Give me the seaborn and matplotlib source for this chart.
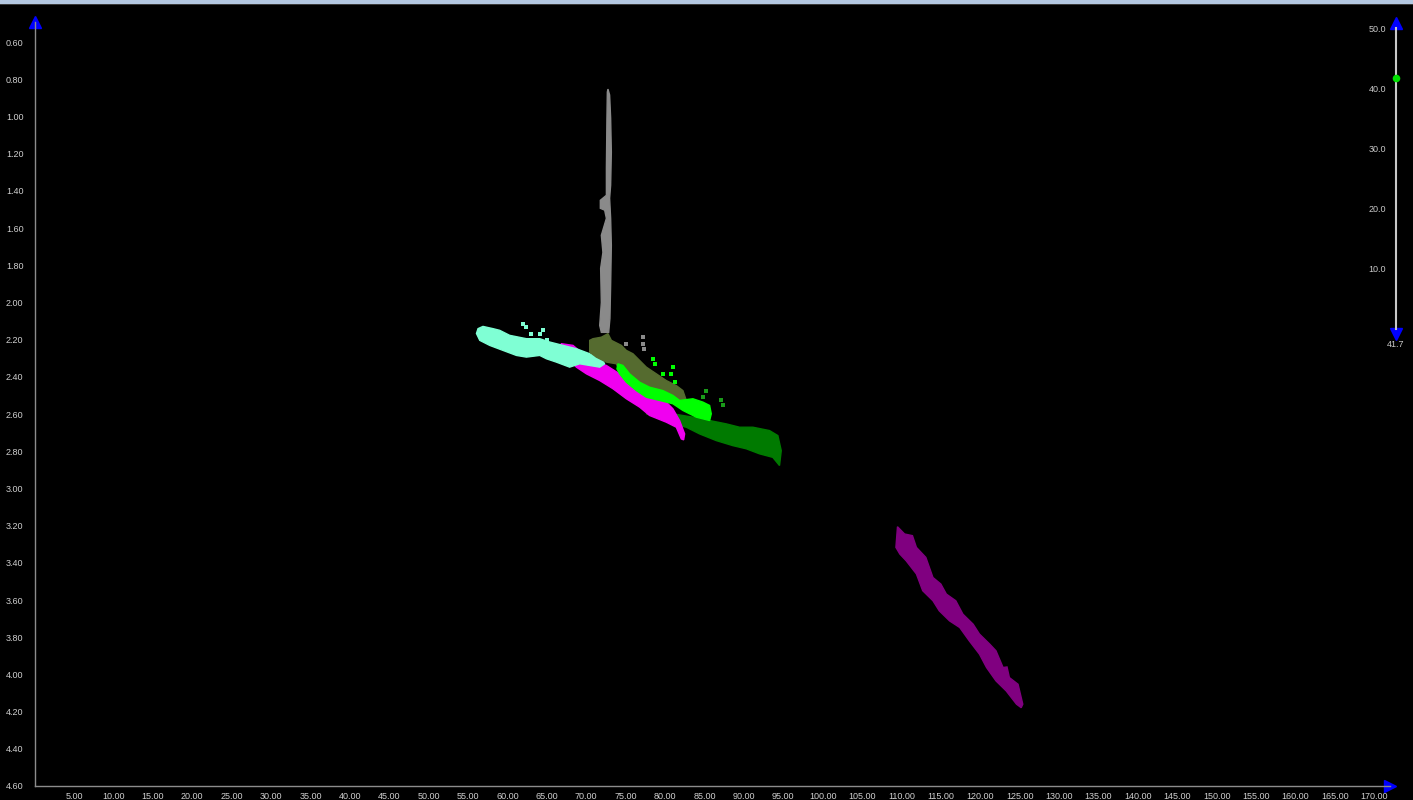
import numpy as np
import matplotlib
matplotlib.use("Agg")
import matplotlib.pyplot as plt
import seaborn as sns
from matplotlib.patches import Rectangle
from matplotlib.ticker import FormatStrFormatter

sns.set_style("dark", {"axes.facecolor": "black", "figure.facecolor": "black"})
plt.rcParams['font.family'] = ['Liberation Sans', 'DejaVu Sans']

# outlines of each point cloud (x, depth)
gray_x = [72.76, 72.97, 73.10, 73.19, 73.10, 72.97, 73.10, 73.19, 73.10, 73.01, 72.85,
          71.92, 71.71, 71.92, 71.83, 72.12, 71.92, 72.56, 72.34, 71.79, 71.79, 72.56,
          72.56, 72.63, 72.68]
gray_y = [0.853, 0.885, 1.009, 1.192, 1.370, 1.440, 1.548, 1.693, 1.908, 2.086, 2.161,
          2.161, 2.124, 2.000, 1.817, 1.731, 1.639, 1.548, 1.504, 1.494, 1.451, 1.424,
          1.278, 1.009, 0.869]

cyan_x = [56.07, 56.27, 56.9, 58.17, 59.02, 60.29, 62.41, 64.1, 65.37, 67.05, 68.75, 70.44,
          71.92, 72.34, 71.71, 70.44, 69.17, 67.9, 66.21, 64.95, 64.1, 62.41, 61.14, 59.44,
          57.75, 56.49]
cyan_y = [2.167, 2.141, 2.129, 2.141, 2.150, 2.177, 2.195, 2.195, 2.213, 2.231, 2.249, 2.276,
          2.303, 2.330, 2.348, 2.339, 2.330, 2.348, 2.321, 2.303, 2.285, 2.294, 2.285, 2.258,
          2.231, 2.204]

magenta_x = [66.85, 68.32, 69.59, 71.29, 72.56, 74.24, 75.93, 77.63, 80.16, 81.0, 81.85,
             82.49, 82.36, 82.07, 81.43, 80.16, 78.05, 76.78, 75.09, 73.39, 71.71, 70.02,
             68.75, 67.48, 66.64]
magenta_y = [2.222, 2.231, 2.276, 2.321, 2.339, 2.384, 2.447, 2.510, 2.536, 2.572, 2.635,
             2.707, 2.739, 2.734, 2.671, 2.644, 2.608, 2.563, 2.518, 2.464, 2.420, 2.384,
             2.348, 2.294, 2.240]

olive_x = [70.44, 70.86, 71.92, 72.76, 73.19, 74.46, 75.09, 75.93, 76.78, 77.63, 78.90,
           80.16, 81.43, 82.27, 82.70, 81.0, 79.73, 78.05, 76.36, 75.09, 74.24, 73.82,
           72.56, 71.29, 70.44]
olive_y = [2.204, 2.195, 2.187, 2.168, 2.204, 2.231, 2.258, 2.276, 2.312, 2.348, 2.384,
           2.420, 2.447, 2.474, 2.527, 2.527, 2.500, 2.474, 2.447, 2.402, 2.366, 2.330,
           2.321, 2.294, 2.267]

dgreen_x = [78.05, 81.0, 83.54, 85.66, 87.77, 89.46, 91.15, 93.26, 94.32, 94.75, 94.53,
            93.68, 91.99, 90.31, 88.61, 86.51, 84.39, 82.70, 81.0, 78.90, 77.63]
dgreen_y = [2.572, 2.599, 2.617, 2.635, 2.653, 2.671, 2.671, 2.689, 2.716, 2.797, 2.877,
            2.833, 2.814, 2.787, 2.770, 2.743, 2.707, 2.671, 2.653, 2.617, 2.599]

lime_x = [74.03, 74.66, 75.51, 76.78, 78.05, 79.73, 81.0, 81.85, 83.54, 84.81, 85.66, 85.87,
          85.66, 83.97, 82.27, 81.0, 79.32, 77.63, 76.36, 75.09, 74.24, 73.90]
lime_y = [2.330, 2.339, 2.384, 2.429, 2.456, 2.474, 2.500, 2.527, 2.518, 2.536, 2.554, 2.599,
          2.635, 2.617, 2.581, 2.545, 2.527, 2.510, 2.474, 2.429, 2.384, 2.357]

purple_x = [109.5, 110.4, 111.4, 111.9, 113.1, 114.0, 115.0, 115.7, 116.9, 117.8, 119.1, 119.9,
            121.2, 122.0, 122.9, 123.4, 123.7, 124.8, 125.4, 125.2, 124.6, 123.3, 122.0, 120.8,
            119.9, 118.6, 117.4, 116.1, 114.8, 114.0, 112.7, 111.9, 110.6, 109.8, 109.3]
purple_y = [3.206, 3.245, 3.254, 3.317, 3.371, 3.479, 3.514, 3.568, 3.604, 3.676, 3.730, 3.783,
            3.837, 3.873, 3.963, 3.960, 4.017, 4.053, 4.160, 4.179, 4.160, 4.089, 4.035, 3.963,
            3.891, 3.819, 3.748, 3.712, 3.658, 3.604, 3.550, 3.460, 3.389, 3.353, 3.317]

# loose points outside the clouds
stray_cyan_x = [62.0, 62.4, 63.0, 64.1, 64.5, 65.0]
stray_cyan_y = [2.114, 2.133, 2.168, 2.168, 2.150, 2.200]
stray_lime_x = [78.47, 78.68, 81.0, 80.80, 81.22, 79.73]
stray_lime_y = [2.303, 2.330, 2.348, 2.384, 2.429, 2.384]
stray_dgreen_x = [85.24, 87.14, 87.34, 84.81]
stray_dgreen_y = [2.474, 2.527, 2.554, 2.510]
stray_gray_x = [77.2, 77.2, 77.3, 75.0]
stray_gray_y = [2.187, 2.222, 2.250, 2.222]

x_ticks = np.arange(5, 171, 5)
y_ticks = np.arange(0.6, 4.61, 0.2)
slider_ticks = [10, 20, 30, 40, 50]
slider_value = 41.7

W, H = 1413, 800
fig = plt.figure(figsize=(W / 100, H / 100), dpi=100)
fig.patch.set_facecolor("black")
fig.add_artist(Rectangle((0, 1 - 4 / H), 1, 4 / H, transform=fig.transFigure,
                         color="#b4c8e1", lw=0))
fig.add_artist(Rectangle((0, 1 - 5 / H), 1, 1 / H, transform=fig.transFigure,
                         color="#3a3a3a", lw=0))

ax = fig.add_axes([34.6 / W, 1 - 786 / H, (1390 - 34.6) / W, (786 - 22) / H])
ax.set_facecolor("black")

clouds = [
    (gray_x, gray_y, "#8a8a8a"),
    (dgreen_x, dgreen_y, "#007a00"),
    (magenta_x, magenta_y, "#f000f0"),
    (cyan_x, cyan_y, "#7fffd4"),
    (olive_x, olive_y, "#556b2f"),
    (lime_x, lime_y, "#00ff00"),
    (purple_x, purple_y, "#800080"),
]
for cx, cy, col in clouds:
    ax.fill(cx, cy, color=col, lw=1.0, ec=col)

for sx, sy, col in [(stray_cyan_x, stray_cyan_y, "#7fffd4"),
                    (stray_lime_x, stray_lime_y, "#00ff00"),
                    (stray_dgreen_x, stray_dgreen_y, "#1a9a1a"),
                    (stray_gray_x, stray_gray_y, "#8a8a8a")]:
    sns.scatterplot(x=sx, y=sy, color=col, s=7, linewidth=0, marker="s", ax=ax)

ax.set_xlim(0, 172)
ax.set_ylim(4.6, 0.6 - 20 / 185.75)
ax.set_xticks(x_ticks)
ax.set_yticks(y_ticks)
ax.xaxis.set_major_formatter(FormatStrFormatter("%.2f"))
ax.yaxis.set_major_formatter(FormatStrFormatter("%.2f"))
ax.tick_params(axis="both", colors="#8c8c8c", labelcolor="#d0d0d0", labelsize=6.5,
               length=3, width=0.8)
ax.tick_params(axis="x", direction="in", pad=4)
ax.tick_params(axis="y", direction="out", pad=5)
for side in ["top", "right"]:
    ax.spines[side].set_visible(False)
for side in ["left", "bottom"]:
    ax.spines[side].set_visible(True)
    ax.spines[side].set_color("#8c8c8c")
    ax.spines[side].set_linewidth(1.0)
ax.grid(False)
ax.plot([0], [0.6 - 20 / 185.75], marker="^", color="#0000ff", ms=8, clip_on=False)
ax.plot([172], [4.6], marker=">", color="#0000ff", ms=8, clip_on=False)

# slider on the right
sl = fig.add_axes([1396 / W, 1 - 329 / H, 0.0005, 301 / H])
sl.set_facecolor("black")
sl.set_ylim(0, 50)
sl.set_xlim(-1, 1)
sl.set_xticks([])
sl.set_yticks(slider_ticks)
sl.yaxis.set_major_formatter(FormatStrFormatter("%.1f"))
sl.tick_params(axis="y", direction="inout", length=12, width=1.2, colors="#c8c8c8",
               labelcolor="#c8c8c8", labelsize=6.5, pad=1)
for side in ["top", "right", "bottom"]:
    sl.spines[side].set_visible(False)
sl.spines["left"].set_visible(True)
sl.spines["left"].set_color("#c8c8c8")
sl.spines["left"].set_linewidth(1.5)
sl.plot([-1], [50.9], marker="^", color="#0000ff", ms=8, clip_on=False)
sl.plot([-1], [-0.9], marker="v", color="#0000ff", ms=8, clip_on=False)
sns.scatterplot(x=[-1], y=[slider_value], color="#00e000", s=30, linewidth=0, ax=sl,
                clip_on=False, zorder=5)
sl.text(-1, -1.8, f"{slider_value:.1f}", color="#c8c8c8", fontsize=6.5,
        ha="center", va="top")
sl.grid(False)

fig.savefig("out.png", dpi=100, facecolor="black")
